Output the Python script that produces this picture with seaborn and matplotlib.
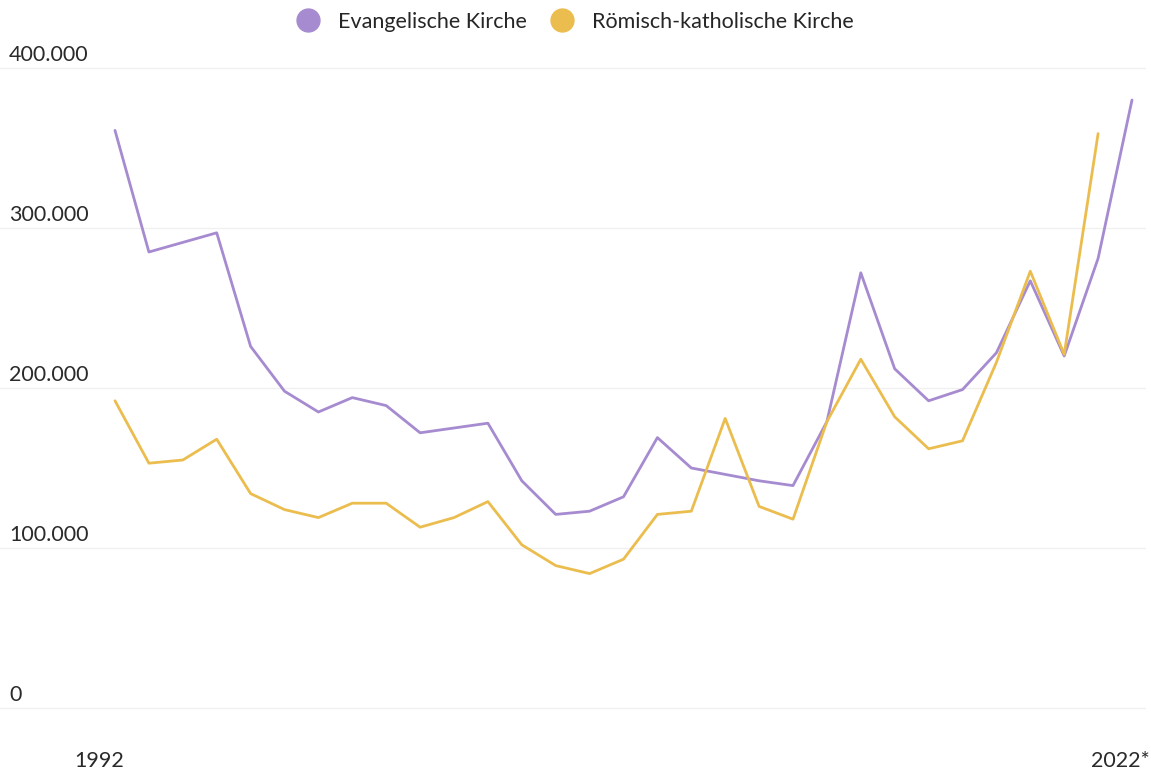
import numpy as np
import pandas as pd
import seaborn as sns
import matplotlib.pyplot as plt
from matplotlib.lines import Line2D
from matplotlib.transforms import blended_transform_factory

# Kirchenaustritte pro Jahr
years = list(range(1992, 2023))
evangelisch = [
    361000, 285000, 291000, 297000, 226000, 198000, 185000, 194000, 189000, 172000,
    175000, 178000, 142000, 121000, 123000, 132000, 169000, 150000, 146000, 142000,
    139000, 179000, 272000, 212000, 192000, 199000, 222000, 267000, 220000, 281000,
    380000,
]
katholisch = [
    192000, 153000, 155000, 168000, 134000, 124000, 119000, 128000, 128000, 113000,
    119000, 129000, 102000, 89000, 84000, 93000, 121000, 123000, 181000, 126000,
    118000, 179000, 218000, 182000, 162000, 167000, 216000, 273000, 221000, 359000,
    np.nan,
]
series_names = ["Evangelische Kirche", "Römisch-katholische Kirche"]
colors = ["#a68bd0", "#ebbd4e"]
y_ticks = [0, 100000, 200000, 300000, 400000]
y_tick_labels = ["0", "100.000", "200.000", "300.000", "400.000"]
x_labels = {1992: "1992", 2022: "2022*"}

df = pd.DataFrame({
    "Jahr": years * 2,
    "Austritte": evangelisch + katholisch,
    "Kirche": [series_names[0]] * len(years) + [series_names[1]] * len(years),
})

sns.set_style("white")
plt.rcParams["font.family"] = ["Lato", "DejaVu Sans"]
text_color = "#2a2a2a"
fs = 15.5

fig = plt.figure(figsize=(11.51, 7.72), dpi=100)
ax = fig.add_axes([0.0, 1 - 708 / 772, 1145 / 1151, (708 - 68) / 772])

sns.lineplot(
    data=df, x="Jahr", y="Austritte", hue="Kirche",
    palette=dict(zip(series_names, colors)), linewidth=2.0,
    legend=False, ax=ax,
)

px_per_year = (1132 - 115) / 30
ax.set_xlim(1992 - 115 / px_per_year, 2022 + 13 / px_per_year)
ax.set_ylim(0, 400000)

# faint horizontal gridlines
for t in y_ticks:
    ax.axhline(t, color="#f0f0f0", linewidth=1.0, zorder=0, clip_on=False)

ax.set_xticks([])
ax.set_yticks([])
ax.set_xlabel("")
ax.set_ylabel("")
for s in ax.spines.values():
    s.set_visible(False)

# y labels sit above the gridlines at the left
trans = blended_transform_factory(fig.transFigure, ax.transData)
for t, lab in zip(y_ticks, y_tick_labels):
    ax.text(9 / 1151, t + 2000, lab, transform=trans, fontsize=fs,
            color=text_color, ha="left", va="bottom")

# x labels only at the ends
ax.text(99 / 1151, 1 - 761 / 772, x_labels[1992], transform=fig.transFigure,
        fontsize=fs, color=text_color, ha="center", va="center")
ax.text(1150 / 1151, 1 - 761 / 772, x_labels[2022], transform=fig.transFigure,
        fontsize=fs, color=text_color, ha="right", va="center")

handles = [
    Line2D([], [], marker="o", linestyle="", markersize=16.5,
           markerfacecolor=c, markeredgecolor=c)
    for c in colors
]
fig.legend(handles, series_names, loc="center", bbox_to_anchor=(570 / 1151, 1 - 22 / 772),
           ncol=2, frameon=False, fontsize=fs, handletextpad=0.4,
           columnspacing=0.6)

fig.savefig("out.png", dpi=100, facecolor="white")
